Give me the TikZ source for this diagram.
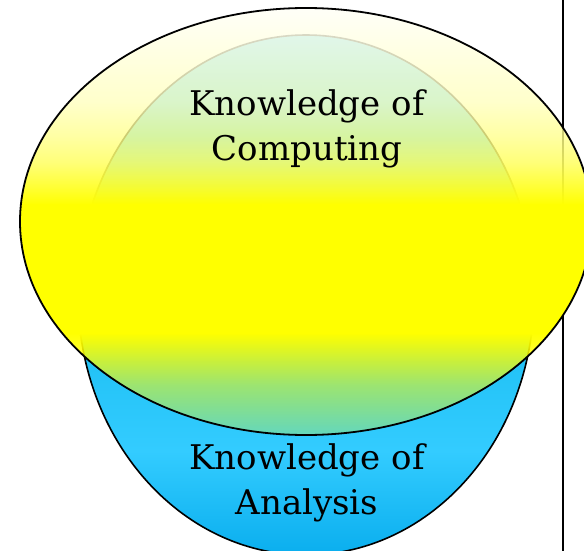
\documentclass[tikz,border=0pt]{standalone}
\usepackage{fontspec}
\setmainfont{DejaVu Serif}
\usetikzlibrary{fadings}

\definecolor{skyA}{HTML}{0AAEEE}
\definecolor{skyB}{HTML}{33CCFF}
\definecolor{skyC}{HTML}{22C2F6}
\definecolor{skyD}{HTML}{3CCBF8}

\pgfdeclareverticalshading{analysisshade}{100bp}{color(0bp)=(skyA); color(25bp)=(skyA); color(35bp)=(skyB); color(44bp)=(skyC); color(75bp)=(skyD); color(100bp)=(skyD)}
\pgfdeclareverticalshading{computingshade}{100bp}{color(0bp)=(yellow); color(25bp)=(yellow); color(52bp)=(yellow); color(57bp)=(yellow!60); color(64bp)=(yellow!25); color(75bp)=(yellow!3); color(100bp)=(yellow!3)}
\pgfdeclareverticalshading{computingmask}{100bp}{color(0bp)=(black!75); color(25bp)=(black!75); color(31bp)=(black!45); color(37bp)=(black!0); color(52bp)=(black!0); color(60bp)=(black!20); color(75bp)=(black!14); color(100bp)=(black!14)}
\pgfdeclarefading{computingfade}{\pgfuseshading{computingmask}}

\begin{document}
\begin{tikzpicture}[x=1pt, y=-1pt,
    lbl/.style={align=center, inner sep=0pt, font=\fontsize{34}{45}\selectfont}]
      \useasboundingbox (0,0) rectangle (584,551);

      \coordinate (top) at (562.5,0);
      \coordinate (bot) at (562.5,551);
      \coordinate (analysis) at (306,295);
      \coordinate (computing) at (306,221.5);

      \draw[line width=2pt] (top) -- (bot);

      \shade[shading=analysisshade] (analysis) ellipse [x radius=228, y radius=260];
      \draw[line width=1.6pt] (analysis) ellipse [x radius=228, y radius=260];

      \shade[shading=computingshade, path fading=computingfade, fit fading=true]
        (computing) ellipse [x radius=286, y radius=213.5];
      \draw[line width=1.8pt] (computing) ellipse [x radius=286, y radius=213.5];

      \node[lbl] (comp) at (307,129) {Knowledge of\\Computing};
      \node[lbl] (anal) at (307,483) {Knowledge of\\Analysis};
    \end{tikzpicture}
\end{document}
